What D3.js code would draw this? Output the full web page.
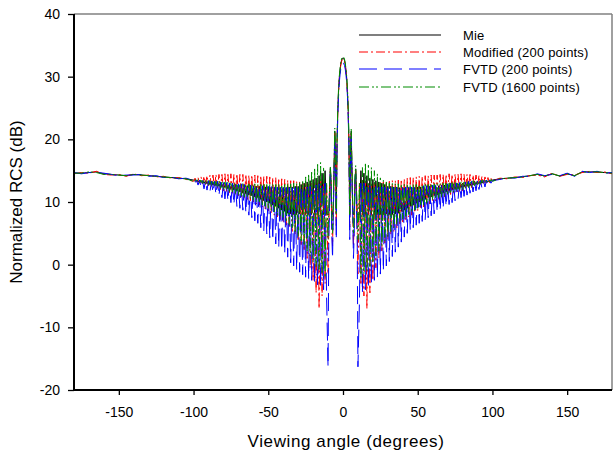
<!DOCTYPE html>
<html><head><meta charset="utf-8">
<script src="https://cdn.jsdelivr.net/npm/d3@7"></script>
<style>
body{margin:0;background:#fff}
svg{display:block}
text{font-family:"Liberation Sans",Arial,sans-serif;fill:#000}
</style>
</head><body>
<svg id="chart" width="613" height="454"></svg>
<script>
// ---------- axis ticks ----------
const xTicks = [-150, -100, -50, 0, 50, 100, 150];
const xTickLabels = ["-150", "-100", "-50", "0", "50", "100", "150"];
const yTicks = [-20, -10, 0, 10, 20, 30, 40];
const yTickLabels = ["-20", "-10", "0", "10", "20", "30", "40"];
const xTitle = "Viewing angle (degrees)";
const yTitle = "Normalized RCS (dB)";
const seriesNames = ["Mie", "Modified (200 points)", "FVTD (200 points)", "FVTD (1600 points)"];

// ---------- sample angles ----------
const outerLeftAngles = [-180, -175, -170, -165, -160, -155, -150, -145, -140, -135, -130, -125, -120, -115, -110, -105];
const leftAngles = d3.range(-100, -10);          // -100 .. -11, 1 degree
const centerAngles = d3.range(-20, 21).map(k => k / 2); // -10 .. 10, 0.5 degree
const rightAngles = d3.range(11, 101);           // 11 .. 100, 1 degree
const outerRightAngles = [105, 110, 115, 120, 125, 130, 135, 140, 145, 150, 155, 160, 165, 170, 175, 180];

// ---------- Mie ----------
const mieOuterL = [14.6, 14.6, 14.7, 14.8, 14.5, 14.4, 14.3, 14.2, 14.4, 14.3, 14.2, 14.1, 14.0, 13.9, 13.8, 13.7];
const mieLeft = [13.5,13.3,13.5,13.2,13.4,13.1,13.4,13.0,13.4,12.9,
 13.3,12.8,13.3,12.7,13.2,12.6,13.2,12.5,13.1,12.4,
 13.0,12.3,13.0,12.1,12.9,12.0,12.9,11.9,12.8,11.7,
 12.8,11.6,12.7,11.4,12.7,11.3,12.6,11.1,12.6,11.0,
 12.6,10.8,12.5,10.7,12.5,10.4,12.4,10.2,12.4,10.0,
 12.4,9.8,12.3,9.5,12.3,9.3,12.3,9.0,12.3,8.7,
 12.3,8.5,12.3,8.2,12.4,8.1,12.4,8.0,12.5,8.0,
 12.5,8.1,12.8,8.0,13.0,8.0,13.2,8.0,13.4,8.0,
 13.6,8.0,13.8,8.0,14.2,8.0,14.6,8.0,15.0,8.0];
const mieCenter = [8.0,8.0,12,15.3,13.5,8.0,8.0,9,15,21.3,17.5,8,19.5,24.5,27.5,29.7,31,32,32.6,32.9,
 33.0,
 32.9,32.6,32,31,29.7,27.5,24.5,19.5,8,17.5,21.3,15,9,8.0,8.0,13.5,15.3,12,8.0,8.0];
const mieRight = [8.0,15.0,8.0,14.6,8.0,14.2,8.0,13.8,8.0,13.6,
 8.0,13.4,8.0,13.2,8.0,13.0,8.0,12.8,8.1,12.5,
 8.0,12.5,8.0,12.4,8.1,12.4,8.2,12.3,8.5,12.3,
 8.7,12.3,9.0,12.3,9.3,12.3,9.5,12.3,9.8,12.4,
 10.0,12.4,10.2,12.4,10.4,12.5,10.7,12.5,10.8,12.6,
 11.0,12.6,11.1,12.6,11.3,12.7,11.4,12.7,11.6,12.8,
 11.7,12.8,11.9,12.9,12.0,12.9,12.1,13.0,12.3,13.0,
 12.4,13.1,12.5,13.2,12.6,13.2,12.7,13.3,12.8,13.3,
 12.9,13.4,13.0,13.4,13.1,13.4,13.2,13.5,13.3,13.5];
const mieOuterR = [13.7, 13.8, 13.9, 14.0, 14.2, 14.4, 14.15, 14.5, 14.15, 14.5, 14.2, 14.8, 14.8, 14.8, 14.7, 14.6];

// ---------- Modified (200 points) ----------
const modOuterL = [14.5, 14.7, 14.6, 14.9, 14.4, 14.3, 14.4, 14.1, 14.5, 14.2, 14.3, 14.0, 14.1, 13.8, 13.9, 13.6];
const modLeft = [13.3,13.8,13.1,13.9,13.0,14.0,12.9,14.1,12.8,14.2,
 12.6,14.3,12.5,14.3,12.3,14.4,12.2,14.4,12.0,14.4,
 11.8,14.5,11.7,14.4,11.5,14.5,11.4,14.4,11.2,14.5,
 11.0,14.4,10.8,14.4,10.6,14.4,10.4,14.3,10.2,14.3,
 10.0,14.3,9.7,14.2,9.5,14.2,9.2,14.1,8.9,14.1,
 8.6,14.0,8.3,13.9,7.9,13.9,7.6,13.8,7.2,13.7,
 6.8,13.6,6.3,13.5,5.9,13.4,5.3,13.4,4.8,13.3,
 4.0,13.2,3.2,13.2,2.2,13.1,1.0,13.0,-0.5,13.0,
 -2.5,13.0,-4.5,13.1,-7.0,13.3,-5.0,13.5,-3.0,13.0];
const modCenter = [-1.5,6,10.5,15,13,6.5,3,8.5,14.5,21,17,6,19,24.2,27.3,29.5,30.8,31.8,32.4,32.7,
 32.8,
 32.7,32.4,31.8,30.8,29.5,27.3,24.2,19,6,17,21,14.5,8.5,3,6.5,13,15,10.5,6,-1.5];
const modRight = [13.0,-3.0,13.5,-5.0,13.3,-7.0,13.1,-4.5,13.0,-2.5,
 13.0,-0.5,13.0,1.0,13.1,2.2,13.2,3.2,13.2,4.0,
 13.3,4.8,13.4,5.3,13.4,5.9,13.5,6.3,13.6,6.8,
 13.7,7.2,13.8,7.6,13.9,7.9,13.9,8.3,14.0,8.6,
 14.1,8.9,14.1,9.2,14.2,9.5,14.2,9.7,14.3,10.0,
 14.3,10.2,14.3,10.4,14.4,10.6,14.4,10.8,14.4,11.0,
 14.5,11.2,14.4,11.4,14.5,11.5,14.4,11.7,14.5,11.8,
 14.4,12.0,14.4,12.2,14.4,12.3,14.3,12.5,14.3,12.6,
 14.2,12.8,14.1,12.9,14.0,13.0,13.9,13.1,13.8,13.3];
const modOuterR = [13.8, 13.7, 14.0, 13.9, 14.2, 14.3, 14.0, 14.6, 14.1, 14.4, 14.3, 14.7, 14.9, 14.7, 14.8, 14.5];

// ---------- FVTD (200 points) ----------
const f200OuterL = [14.7, 14.5, 14.7, 14.7, 14.6, 14.4, 14.2, 14.3, 14.3, 14.4, 14.1, 14.2, 13.9, 14.0, 13.7, 13.8];
const f200Left = [13.4,13.0,13.5,12.7,13.5,12.3,13.4,12.1,13.4,11.9,
 13.4,11.7,13.3,11.5,13.3,11.2,13.3,11.0,13.2,10.7,
 13.2,10.5,13.1,10.2,13.0,9.9,13.0,9.6,13.0,9.3,
 12.9,9.0,12.9,8.7,12.8,8.3,12.8,7.9,12.7,7.5,
 12.7,7.0,12.7,6.6,12.6,5.9,12.6,5.4,12.5,4.9,
 12.5,4.3,12.5,3.9,12.4,3.3,12.4,2.8,12.3,2.4,
 12.3,1.8,12.3,1.2,12.3,0.3,12.3,-0.2,12.3,-0.8,
 12.3,-1.2,12.4,-1.6,12.4,-2.0,12.4,-2.2,12.5,-2.5,
 12.5,-2.8,12.7,-3.2,12.9,-3.5,13.0,-4.0,13.0,-5.0];
const f200Center = [-16.3,4,9,14.5,12.5,5,1,8,14,20.5,16,4,18.5,23.5,26.8,29,30.3,31.2,31.8,32.1,
 32.2,
 32.1,31.8,31.2,30.3,29,26.8,23.5,18.5,4,16,20.5,14,8,1,5,12.5,14.5,9,4,-16.3];
const f200Right = [-6.0,13.0,-4.5,13.0,-4.0,12.9,-3.5,12.7,-3.0,12.5,
 -2.5,12.5,-2.0,12.4,-1.5,12.4,-1.0,12.4,-0.2,12.3,
 0.5,12.3,1.3,12.3,2.0,12.3,2.8,12.3,3.6,12.3,
 4.4,12.4,5.0,12.4,5.5,12.4,5.9,12.5,6.3,12.5,
 6.6,12.5,6.9,12.6,7.2,12.6,7.5,12.7,7.8,12.7,
 8.1,12.7,8.4,12.8,8.7,12.8,9.0,12.9,9.3,12.9,
 9.6,13.0,9.9,13.0,10.2,13.0,10.5,13.1,10.7,13.2,
 10.9,13.2,11.1,13.3,11.4,13.3,11.6,13.3,11.8,13.4,
 12.0,13.4,12.2,13.4,12.4,13.5,12.7,13.5,13.0,13.4];
const f200OuterR = [13.6, 13.9, 13.8, 14.1, 14.1, 14.5, 14.2, 14.4, 14.2, 14.6, 14.1, 14.9, 14.7, 14.9, 14.6, 14.7];

// ---------- FVTD (1600 points) ----------
const f1600OuterL = [14.6, 14.6, 14.8, 14.7, 14.4, 14.4, 14.3, 14.2, 14.4, 14.3, 14.2, 14.1, 14.0, 13.9, 13.8, 13.7];
const f1600Left = [13.3,13.6,13.2,13.6,13.1,13.5,13.0,13.5,12.9,13.4,
 12.7,13.4,12.6,13.4,12.5,13.3,12.3,13.3,12.2,13.2,
 12.0,13.2,11.9,13.2,11.7,13.1,11.6,13.1,11.4,13.0,
 11.2,13.0,11.0,13.0,10.8,12.9,10.7,12.9,10.5,12.9,
 10.3,12.9,10.0,12.8,9.8,12.8,9.5,12.8,9.3,12.8,
 9.0,12.8,8.7,12.8,8.4,12.8,8.0,12.8,7.7,12.8,
 7.3,12.8,6.9,12.9,6.4,12.9,5.9,13.0,5.3,13.0,
 4.5,13.2,3.8,13.5,3.0,14.0,2.2,14.5,1.4,15.0,
 0.5,15.5,-0.3,16.0,-1.0,16.3,-1.5,15.5,-2.0,13.0];
const f1600Center = [4,9,12,15.8,14,8,5,10,16,21.8,18,8,20,25,28,30,31.2,32.2,32.8,33.1,
 33.2,
 33.1,32.8,32.2,31.2,30,28,25,20,8,18,21.6,16,10,5,8,14,15.8,12,9,4];
const f1600Right = [13.0,-2.0,15.5,-1.5,16.3,-1.0,16.0,-0.3,15.5,0.5,
 15.0,1.4,14.5,2.2,14.0,3.0,13.5,3.8,13.2,4.5,
 13.0,5.3,13.0,5.9,12.9,6.4,12.9,6.9,12.8,7.3,
 12.8,7.7,12.8,8.0,12.8,8.4,12.8,8.7,12.8,9.0,
 12.8,9.3,12.8,9.5,12.8,9.8,12.8,10.0,12.9,10.3,
 12.9,10.5,12.9,10.7,12.9,10.8,13.0,11.0,13.0,11.2,
 13.0,11.4,13.1,11.6,13.1,11.7,13.2,11.9,13.2,12.0,
 13.2,12.2,13.3,12.3,13.3,12.5,13.4,12.6,13.4,12.7,
 13.4,12.9,13.5,13.0,13.5,13.1,13.6,13.2,13.6,13.3];
const f1600OuterR = [13.7, 13.8, 13.9, 14.0, 14.2, 14.4, 14.15, 14.5, 14.15, 14.5, 14.2, 14.8, 14.8, 14.8, 14.7, 14.6];

// ---------- build series ----------
const allAngles = outerLeftAngles.concat(leftAngles, centerAngles, rightAngles, outerRightAngles);
function build(oL, l, c, r, oR) {
  const v = oL.concat(l, c, r, oR);
  return allAngles.map((a, i) => ({a: a, v: v[i]}));
}
const series = [
  {name: seriesNames[0], color: "#000000", dash: null, data: build(mieOuterL, mieLeft, mieCenter, mieRight, mieOuterR)},
  {name: seriesNames[1], color: "#ff0000", dash: "9,3,2,3", data: build(modOuterL, modLeft, modCenter, modRight, modOuterR)},
  {name: seriesNames[2], color: "#0000ff", dash: "18,7", data: build(f200OuterL, f200Left, f200Center, f200Right, f200OuterR)},
  {name: seriesNames[3], color: "#008c00", dash: "10,3,2,2,2,3", data: build(f1600OuterL, f1600Left, f1600Center, f1600Right, f1600OuterR)}
];

// ---------- layout ----------
const svg = d3.select("#chart");
const L = 74, R = 612, T = 14, B = 390;
const x = d3.scaleLinear().domain([-180, 180]).range([L, R]);
const y = d3.scaleLinear().domain([-20, 40]).range([B, T]);

svg.append("defs").append("clipPath").attr("id", "clip")
  .append("rect").attr("x", L).attr("y", T).attr("width", R - L).attr("height", B - T);

// frame (top / right, grey)
svg.append("line").attr("x1", L).attr("x2", R).attr("y1", T).attr("y2", T).attr("stroke", "#808080").attr("stroke-width", 1.5);
svg.append("line").attr("x1", R).attr("x2", R).attr("y1", T).attr("y2", B).attr("stroke", "#808080").attr("stroke-width", 1.5);

// lines
const line = d3.line().x(d => x(d.a)).y(d => y(d.v));
const g = svg.append("g").attr("clip-path", "url(#clip)");
series.forEach(s => {
  g.append("path").datum(s.data).attr("d", line)
    .attr("fill", "none").attr("stroke", s.color).attr("stroke-width", 1)
    .attr("stroke-dasharray", s.dash);
});

// axes
const xAxis = d3.axisBottom(x).tickValues(xTicks).tickFormat((d, i) => xTickLabels[i]).tickSize(5).tickPadding(12);
const yAxis = d3.axisLeft(y).tickValues(yTicks).tickFormat((d, i) => yTickLabels[i]).tickSize(6).tickPadding(8);
const gx = svg.append("g").attr("transform", `translate(0,${B})`).call(xAxis);
const gy = svg.append("g").attr("transform", `translate(${L},0)`).call(yAxis);
[gx, gy].forEach(ax => {
  ax.select(".domain").remove();
  ax.selectAll(".tick line").attr("stroke", "#000").attr("stroke-width", 1.3);
  ax.selectAll(".tick text").attr("font-size", 14).attr("font-family", "Liberation Sans, Arial, sans-serif").attr("fill", "#000");
});
svg.append("line").attr("x1", L).attr("x2", L).attr("y1", T).attr("y2", B + 1).attr("stroke", "#000").attr("stroke-width", 2);
svg.append("line").attr("x1", L - 1).attr("x2", R).attr("y1", B).attr("y2", B).attr("stroke", "#000").attr("stroke-width", 2);

// titles
svg.append("text").attr("x", 346).attr("y", 447).attr("text-anchor", "middle")
  .attr("font-size", 17).attr("letter-spacing", 0.6).text(xTitle);
svg.append("text").attr("transform", "translate(22,202) rotate(-90)").attr("text-anchor", "middle")
  .attr("font-size", 17).text(yTitle);

// legend
const leg = svg.append("g");
const legY = [35, 52, 69, 87];
series.forEach((s, i) => {
  leg.append("line").attr("x1", 359).attr("x2", 441).attr("y1", legY[i]).attr("y2", legY[i])
    .attr("stroke", s.color).attr("stroke-width", 1.2).attr("stroke-dasharray", s.dash);
  leg.append("text").attr("x", 463).attr("y", legY[i]).attr("dy", "0.35em")
    .attr("font-size", 13).attr("letter-spacing", 0.2).text(s.name);
});
</script>
</body></html>
